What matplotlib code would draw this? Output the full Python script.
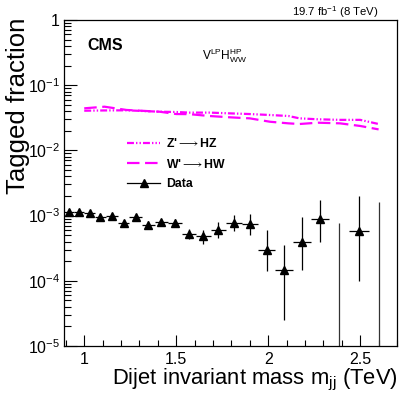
import numpy as np
import matplotlib
matplotlib.use("Agg")
import matplotlib.pyplot as plt
from matplotlib.ticker import FixedLocator, FuncFormatter, LogLocator, NullFormatter, MultipleLocator
from matplotlib.lines import Line2D

plt.rcParams['font.family'] = ['Liberation Sans', 'DejaVu Sans']
plt.rcParams['mathtext.fontset'] = 'custom'
plt.rcParams['mathtext.rm'] = 'Liberation Sans'
plt.rcParams['mathtext.it'] = 'Liberation Sans'
plt.rcParams['mathtext.bf'] = 'Liberation Sans:bold'
plt.rcParams['lines.scale_dashes'] = False

# ---- data ----
bin_edges = [0.890, 0.944, 1.000, 1.058, 1.118, 1.181, 1.246, 1.313, 1.383, 1.455,
             1.530, 1.607, 1.687, 1.770, 1.856, 1.945, 2.037, 2.132, 2.231, 2.332,
             2.438, 2.546, 2.659]
data_bins = [0, 1, 2, 3, 4, 5, 6, 7, 8, 9, 10, 11, 12, 13, 14, 15, 16, 17, 18, 20]
data_values = [1.15e-3, 1.12e-3, 1.08e-3, 0.96e-3, 0.99e-3, 0.76e-3, 0.94e-3, 0.73e-3,
               0.79e-3, 0.76e-3, 0.53e-3, 0.49e-3, 0.60e-3, 0.76e-3, 0.74e-3, 0.30e-3,
               1.46e-4, 0.40e-3, 0.88e-3, 0.59e-3]
data_upper = [1.25e-3, 1.22e-3, 1.18e-3, 1.06e-3, 1.10e-3, 0.86e-3, 1.06e-3, 0.83e-3,
              0.90e-3, 0.88e-3, 0.63e-3, 0.61e-3, 0.79e-3, 1.03e-3, 1.05e-3, 0.61e-3,
              0.35e-3, 0.96e-3, 1.74e-3, 2.0e-3]
data_lower = [1.05e-3, 1.02e-3, 0.98e-3, 0.86e-3, 0.89e-3, 0.67e-3, 0.83e-3, 0.64e-3,
              0.69e-3, 0.66e-3, 0.43e-3, 0.37e-3, 0.46e-3, 0.59e-3, 0.50e-3, 1.4e-4,
              2.5e-5, 1.46e-4, 0.40e-3, 1.0e-4]
empty_bins = [19, 21]
empty_upper = [0.76e-3, 1.6e-3]

sig_mass = [1.00, 1.11, 1.23, 1.41, 1.50, 1.57, 1.68, 1.79, 1.90, 2.01, 2.11, 2.17,
            2.27, 2.39, 2.50, 2.60]
zprime_hz = [0.0406, 0.0410, 0.0412, 0.0392, 0.0388, 0.0380, 0.0380, 0.0370, 0.0361,
             0.0349, 0.0337, 0.0310, 0.0300, 0.0294, 0.0294, 0.0254]
wprime_hw = [0.0442, 0.0468, 0.0417, 0.0392, 0.0361, 0.0360, 0.0337, 0.0322, 0.0310,
             0.0275, 0.0260, 0.0254, 0.0266, 0.0260, 0.0237, 0.0210]

# ---- figure ----
fig = plt.figure(figsize=(4.07, 3.98), dpi=100)
W, H = 407, 398
L, R, T, B = 64, 397, 20, 346
ax = fig.add_axes([L / W, 1 - B / H, (R - L) / W, (B - T) / H])

edges = np.array(bin_edges)
centers = 0.5 * (edges[:-1] + edges[1:])
halfw = 0.5 * (edges[1:] - edges[:-1])

mag = '#ff00ff'
zdash = (5, 1.5, 1, 1.5, 1, 1.5)
wdash = (9, 4)
ax.plot(sig_mass, zprime_hz, color=mag, lw=1.6, dashes=zdash)
ax.plot(sig_mass, wprime_hw, color=mag, lw=1.6, dashes=wdash)

xd = centers[data_bins]
xe = halfw[data_bins]
yv = np.array(data_values)
yerr = np.vstack([yv - np.array(data_lower), np.array(data_upper) - yv])
ax.errorbar(xd, yv, xerr=xe, yerr=yerr, fmt='^', color='black', ms=6.2,
            elinewidth=0.9, capsize=0, zorder=3)
ax.vlines(centers[empty_bins], 1e-6, empty_upper, color='#333333', lw=0.9)

ax.set_yscale('log')
ax.set_xlim(0.89, 2.70)
ax.set_ylim(1e-5, 1)

def yfmt(v, pos):
    e = int(round(np.log10(v)))
    if e == 0:
        return '1'
    return r'$10^{%d}$' % e
ax.yaxis.set_major_locator(FixedLocator([1e-5, 1e-4, 1e-3, 1e-2, 1e-1, 1]))
ax.yaxis.set_major_formatter(FuncFormatter(yfmt))
ax.yaxis.set_minor_locator(LogLocator(base=10, subs=np.arange(2, 10)))
ax.yaxis.set_minor_formatter(NullFormatter())
ax.xaxis.set_major_locator(FixedLocator([1.0, 1.5, 2.0, 2.5]))
ax.xaxis.set_major_formatter(FuncFormatter(lambda v, p: ('%g' % v)))
ax.xaxis.set_minor_locator(MultipleLocator(0.1))

ax.tick_params(which='both', direction='in', top=False, right=False, width=0.8,
               labelsize=11.5, colors='black')
ax.tick_params(axis='y', which='major', length=9, pad=3)
ax.tick_params(axis='y', which='minor', length=5)
ax.tick_params(axis='x', which='major', length=8, pad=4)
ax.tick_params(axis='x', which='minor', length=4)
for s in ax.spines.values():
    s.set_linewidth(0.9)

fig.text(18 / W, 1 - 18 / H, 'Tagged fraction', rotation=90, ha='center', va='top',
         fontsize=18.5)
fig.text(398 / W, 1 - 380 / H, r'Dijet invariant mass m$_{\mathrm{jj}}$ (TeV)',
         ha='right', va='center', fontsize=15.8)

fig.text(379 / W, 1 - 12 / H, r'19.7 fb$^{-1}$ (8 TeV)', ha='right', va='center', fontsize=8.2)
fig.text(87 / W, 1 - 45 / H, 'CMS', ha='left', va='center', fontsize=11.5, fontweight='bold')
fig.text(224 / W, 1 - 56 / H, r'V$^{\mathrm{LP}}$H$^{\mathrm{HP}}_{\mathrm{WW}}$', ha='center',
         va='center', fontsize=8.6)

handles = [
    Line2D([], [], color=mag, lw=1.6, dashes=zdash),
    Line2D([], [], color=mag, lw=1.6, dashes=wdash),
    Line2D([0], [0], color='black', lw=0.9, marker='^', ms=6.2),
]
labels = [r"Z'$\longrightarrow$HZ", r"W'$\longrightarrow$HW", 'Data']
leg = ax.legend(handles, labels, loc='upper left',
                bbox_to_anchor=((127 - L) / (R - L), 1 - (137 - T) / (B - T)),
                frameon=False, handlelength=2.7, handletextpad=0.5, labelspacing=0.62,
                borderaxespad=0, borderpad=0, prop={'size': 8.8, 'weight': 'bold'})

fig.savefig('out.png', dpi=100)
